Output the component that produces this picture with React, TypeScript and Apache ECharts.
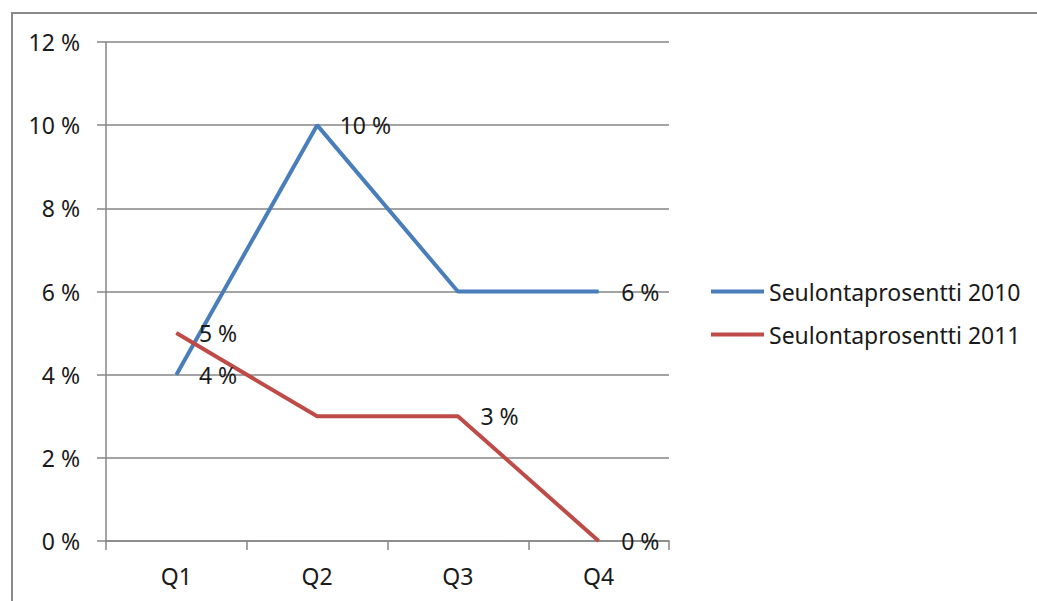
import React, { useEffect, useRef } from "react";
import * as echarts from "echarts";

const categories = ["Q1", "Q2", "Q3", "Q4"];
const series2010 = [4, 10, 6, 6];
const series2011 = [5, 3, 3, 0];
// which point labels are visible in the reference
const labels2010 = [true, true, false, true];
const labels2011 = [true, false, true, true];
const seriesNames = ["Seulontaprosentti 2010", "Seulontaprosentti 2011"];

const FONT = "Noto Sans";
const TEXT = "#1a1a1a";
const AXIS = "#868686";
const FS = 23;

export default function App() {
  const ref = useRef<HTMLDivElement>(null);
  useEffect(() => {
    if (!ref.current) return;
    const chart = echarts.init(ref.current, undefined, { renderer: "svg" });
    const label = {
      show: true,
      position: "right",
      distance: 22,
      formatter: "{c} %",
      color: TEXT,
      fontFamily: FONT,
      fontSize: FS,
    };
    const build = (vals: number[], shows: boolean[]) =>
      vals.map((v, i) => ({ value: v, label: { show: shows[i] } }));
    chart.setOption({
      animation: false,
      backgroundColor: "#ffffff",
      grid: { left: 106, top: 42, right: 368, bottom: 60, containLabel: false },
      graphic: [
        {
          type: "rect",
          shape: { x: 12, y: 13, width: 1100, height: 700 },
          style: { fill: "none", stroke: "#8a8a8a", lineWidth: 2 },
          silent: true,
        },
      ],
      legend: {
        orient: "vertical",
        left: 706,
        top: 275,
        itemWidth: 53,
        itemHeight: 4,
        itemGap: 20,
        icon: "rect",
        textStyle: { color: TEXT, fontFamily: FONT, fontSize: FS },
        data: seriesNames,
      },
      xAxis: {
        type: "category",
        data: categories,
        boundaryGap: true,
        axisLine: { show: true, lineStyle: { color: AXIS, width: 1.5 } },
        axisTick: { show: true, length: 9, lineStyle: { color: AXIS, width: 1.5 } },
        axisLabel: { color: TEXT, fontFamily: FONT, fontSize: FS, margin: 23 },
        splitLine: { show: false },
      },
      yAxis: {
        type: "value",
        min: 0,
        max: 12,
        interval: 2,
        axisLine: { show: true, lineStyle: { color: AXIS, width: 1.5 } },
        axisTick: { show: true, length: 9, lineStyle: { color: AXIS, width: 1.5 } },
        axisLabel: { color: TEXT, fontFamily: FONT, fontSize: FS, margin: 26, formatter: "{value} %" },
        splitLine: { show: true, lineStyle: { color: AXIS, width: 1.5 } },
      },
      series: [
        {
          name: seriesNames[0],
          type: "line",
          data: build(series2010, labels2010),
          symbol: "circle",
          symbolSize: 1,
          color: "#4A7EBB",
          lineStyle: { width: 4, color: "#4A7EBB" },
          label,
        },
        {
          name: seriesNames[1],
          type: "line",
          data: build(series2011, labels2011),
          symbol: "circle",
          symbolSize: 1,
          color: "#BE4B48",
          lineStyle: { width: 4, color: "#BE4B48" },
          label,
        },
      ],
    });
    return () => chart.dispose();
  }, []);
  return (
    <div
      ref={ref}
      style={{ position: "fixed", left: 0, top: 0, width: 1037, height: 601 }}
    />
  );
}
